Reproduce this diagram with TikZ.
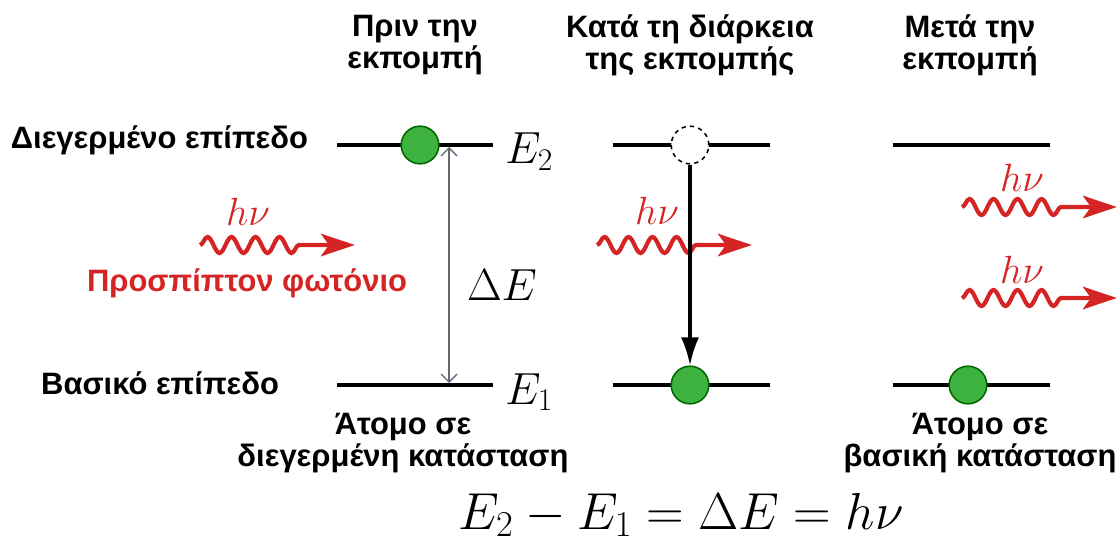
\RequirePackage{fix-cm}
\documentclass[tikz,border=0pt]{standalone}
\usepackage[no-math]{fontspec}
\setmainfont{Liberation Sans}
\usetikzlibrary{arrows.meta,decorations.pathmorphing}
\definecolor{photonred}{RGB}{212,36,36}
\definecolor{atomgreen}{RGB}{62,178,62}
\definecolor{gapgray}{RGB}{95,105,115}
\tikzset{
  level/.style={line width=2.8pt},
  atom/.style={circle,draw=black!60!green,fill=atomgreen,line width=1.1pt,minimum size=9.4mm,inner sep=0pt},
  hole/.style={circle,draw,dashed,fill=white,line width=1.1pt,minimum size=9.4mm,inner sep=0pt},
  head/.style={font=\fontsize{22}{23}\selectfont\bfseries,align=center},
  lvlabel/.style={font=\fontsize{22}{23}\selectfont\bfseries},
  energy/.style={font=\fontsize{32}{38}\selectfont,inner sep=0pt},
  hnu/.style={font=\fontsize{28}{32}\selectfont,text=photonred,inner sep=0pt},
  photon/.style={photonred,line width=3pt,decorate,
    decoration={snake,amplitude=2mm,segment length=6mm,post length=1.1cm},
    -{Stealth[length=8.5mm,width=5.6mm,inset=2mm]}},
  decay/.style={line width=2.3pt,-{Latex[length=7mm,width=4.5mm]}},
  gap/.style={gapgray,line width=0.9pt,{Straight Barb[length=2mm]}-{Straight Barb[length=2mm]}},
}
\begin{document}
\begin{tikzpicture}[x=0.025cm,y=-0.025cm]
  \useasboundingbox (0,0) rectangle (1120,545);
  % ---- column heads ----
  \node[head] (hBefore) at (415,45) {Πριν την\\εκπομπή};
  \node[head] (hDuring) at (690,45) {Κατά τη διάρκεια\\της εκπομπής};
  \node[head] (hAfter) at (970,45) {Μετά την\\εκπομπή};
  % ---- level names ----
  \node[lvlabel,anchor=east] (nUp) at (313,140) {Διεγερμένο επίπεδο};
  \node[lvlabel,anchor=east] (nLow) at (284,383) {Βασικό επίπεδο};
  \node[lvlabel,text=photonred] (nPh) at (247,283) {Προσπίπτον φωτόνιο};
  % ---- level lines ----
  \coordinate (aUw) at (337,145); \coordinate (aUe) at (493,145);
  \coordinate (aLw) at (337,385); \coordinate (aLe) at (493,385);
  \coordinate (bUw) at (613,145); \coordinate (bUe) at (770,145);
  \coordinate (bLw) at (613,385); \coordinate (bLe) at (770,385);
  \coordinate (cUw) at (893,145); \coordinate (cUe) at (1050,145);
  \coordinate (cLw) at (893,385); \coordinate (cLe) at (1050,385);
  \draw[level] (aUw) -- (aUe);
  \draw[level] (aLw) -- (aLe);
  \draw[level] (bUw) -- (bUe);
  \draw[level] (bLw) -- (bLe);
  \draw[level] (cUw) -- (cUe);
  \draw[level] (cLw) -- (cLe);
  % ---- energies ----
  \node[energy,anchor=west] (E2) at (505,152) {$E_2$};
  \node[energy,anchor=west] (E1) at (505,392) {$E_1$};
  \node[energy] (dE) at (502,285) {$\Delta E$};
  \coordinate (gTop) at (449,147);
  \coordinate (gBot) at (449,383);
  \draw[gap] (gTop) -- (gBot);
  % ---- photons ----
  \coordinate (p1s) at (200,245); \coordinate (p1e) at (355,245);
  \coordinate (p2s) at (597,245); \coordinate (p2e) at (752,245);
  \coordinate (p3s) at (962,207); \coordinate (p3e) at (1117,207);
  \coordinate (p4s) at (962,298); \coordinate (p4e) at (1117,298);
  \draw[photon] (p1s) -- (p1e);
  \draw[photon] (p2s) -- (p2e);
  \draw[photon] (p3s) -- (p3e);
  \draw[photon] (p4s) -- (p4e);
  \node[hnu] (hv1) at (248,212) {$h\nu$};
  \node[hnu] (hv2) at (657,211) {$h\nu$};
  \node[hnu] (hv3) at (1022,178) {$h\nu$};
  \node[hnu] (hv4) at (1022,270) {$h\nu$};
  % ---- atoms ----
  \node[atom] (atA) at (420,145) {};
  \node[hole] (atB0) at (690,145) {};
  \node[atom] (atB) at (690,385) {};
  \node[atom] (atC) at (968,385) {};
  \draw[decay] (atB0) -- (atB);
  % ---- bottom ----
  \node[head] (tA) at (403,443) {Άτομο σε\\διεγερμένη κατάσταση};
  \node[head] (tC) at (980,443) {Άτομο σε\\βασική κατάσταση};
  \node[energy,font=\fontsize{37}{44}\selectfont] (eq) at (681,515) {$E_2-E_1=\Delta E=h\nu$};
\end{tikzpicture}
\end{document}
